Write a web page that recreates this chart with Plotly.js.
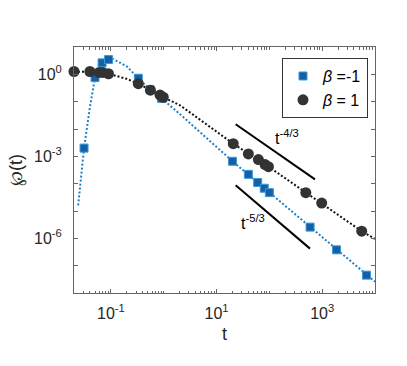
<!DOCTYPE html>
<html>
<head>
<meta charset="utf-8">
<script src="https://cdn.plot.ly/plotly-3.0.1.min.js"></script>
<style>html,body{margin:0;padding:0;background:#fff;}#chart{width:407px;height:366px;}</style>
</head>
<body>
<div id="chart"></div>
<script>
// beta = -1 (blue squares)
const blueT = [0.031, 0.05, 0.068, 0.09, 0.33, 0.55, 0.91, 20, 40, 60, 80, 100, 590, 1870, 6900];
const blueP = [2.0e-3, 0.76, 2.63, 3.47, 0.72, 0.275, 0.132, 6.6e-4, 2.19e-4, 1.10e-4, 6.8e-5, 4.7e-5, 2.57e-6, 3.8e-7, 4.5e-8];
// beta = -1 dotted curve
const blueCurveT = [0.024, 0.031, 0.04, 0.05, 0.068, 0.09, 0.11, 0.2, 0.33, 0.55, 0.91, 2.03, 20, 100, 590, 1870, 6900, 10000];
const blueCurveP = [1.6e-5, 2.0e-3, 0.063, 0.76, 2.63, 3.47, 3.63, 1.95, 0.72, 0.275, 0.132, 0.035, 6.6e-4, 4.7e-5, 2.57e-6, 3.8e-7, 4.5e-8, 2.6e-8];
// beta = 1 (black circles)
const blackT = [0.02, 0.04, 0.06, 0.07, 0.09, 0.33, 0.56, 0.85, 0.98, 20.7, 40, 62, 83, 96, 490, 980, 5600];
const blackP = [1.27, 1.27, 1.17, 1.17, 1.05, 0.457, 0.263, 0.174, 0.145, 2.9e-3, 1.23e-3, 7.6e-4, 5.0e-4, 4.2e-4, 4.7e-5, 1.95e-5, 1.82e-6];
// beta = 1 dotted curve
const blackCurveT = [0.02, 0.05, 0.09, 0.2, 0.33, 0.56, 0.98, 2.03, 20.7, 96, 490, 980, 5600, 10000];
const blackCurveP = [1.26, 1.23, 1.05, 0.68, 0.457, 0.263, 0.145, 0.074, 2.9e-3, 4.2e-4, 4.7e-5, 1.95e-5, 1.82e-6, 9.5e-7];
// guide lines
const guide43T = [23, 731];
const guide43P = [1.49e-2, 1.43e-4];
const guide53T = [23, 588];
const guide53P = [8.7e-5, 4.2e-7];
// tick labels
const xTickVals = [0.1, 10, 1000];
const xTickText = ['10<sup>-1</sup>', '10<sup>1</sup>', '10<sup>3</sup>'];
const yTickVals = [1e-8, 1e-7, 1e-6, 1e-5, 1e-4, 1e-3, 1e-2, 1e-1, 1, 10];
const yTickText = ['', '', '10<sup>-6</sup>', '', '', '10<sup>-3</sup>', '', '', '10<sup>0</sup>', ''];
const legendNames = ['<i>β</i> =-1', '<i>β</i> = 1'];

const xMinor = [];
for (let d = -2; d <= 3; d++) {
  for (let k = 1; k <= 9; k++) {
    const v = k * Math.pow(10, d);
    if (v >= 0.02 && v <= 10000) xMinor.push(v);
  }
}

const blue = '#1f80c8';
const font = "'Liberation Sans', Arial, Helvetica, sans-serif";

const traces = [
  {x: blueCurveT, y: blueCurveP, mode: 'lines', line: {color: blue, width: 2, dash: '2px,2px'}, showlegend: false, hoverinfo: 'skip'},
  {x: blackCurveT, y: blackCurveP, mode: 'lines', line: {color: '#111', width: 2, dash: '2px,2px'}, showlegend: false, hoverinfo: 'skip'},
  {x: guide43T, y: guide43P, mode: 'lines', line: {color: '#000', width: 2}, showlegend: false},
  {x: guide53T, y: guide53P, mode: 'lines', line: {color: '#000', width: 2}, showlegend: false},
  {x: blueT, y: blueP, mode: 'markers', name: legendNames[0], cliponaxis: false,
   marker: {symbol: 'square', size: 8, color: '#155fa6', line: {color: '#3a9ad9', width: 1}}},
  {x: blackT, y: blackP, mode: 'markers', name: legendNames[1], cliponaxis: false,
   marker: {symbol: 'circle', size: 11, color: '#333333', line: {width: 0}}}
];

const axisCommon = {
  type: 'log', showgrid: false, zeroline: false, showline: true, linecolor: '#666', linewidth: 1,
  mirror: 'ticks', ticks: 'inside', tickcolor: '#666', tickwidth: 1,
  tickfont: {family: font, size: 16, color: '#262626'}
};

const layout = {
  width: 407, height: 366,
  margin: {l: 74, r: 32, t: 47, b: 73},
  paper_bgcolor: '#fff', plot_bgcolor: '#fff',
  font: {family: font, color: '#262626'},
  xaxis: Object.assign({}, axisCommon, {
    range: [Math.log10(0.02), 4],
    tickmode: 'array', tickvals: xTickVals, ticktext: xTickText, ticklen: 4,
    minor: {tickmode: 'array', tickvals: xMinor, ticks: 'inside', ticklen: 2.5, tickcolor: '#666', tickwidth: 1},
    ticklabelstandoff: 6,
    title: {text: 't', font: {family: font, size: 18, color: '#262626'}, standoff: 6}
  }),
  yaxis: Object.assign({}, axisCommon, {
    range: [-8, 1],
    tickmode: 'array', tickvals: yTickVals, ticktext: yTickText, ticklen: 4,
    ticklabelstandoff: 8,
    title: {text: '℘(t)', font: {family: font, size: 18, color: '#262626'}, standoff: 6}
  }),
  legend: {
    x: 0.691, y: 0.955, xanchor: 'left', yanchor: 'top',
    bgcolor: '#fff', bordercolor: '#333', borderwidth: 1,
    font: {family: font, size: 16, color: '#000'}
  },
  annotations: [
    {xref: 'paper', yref: 'paper', x: 0.755, y: 0.635, text: 't<sup>-4/3</sup>', showarrow: false,
     font: {family: font, size: 16, color: '#000'}},
    {xref: 'paper', yref: 'paper', x: 0.595, y: 0.240, text: 't<sup>-5/3</sup>', showarrow: false,
     font: {family: font, size: 16, color: '#000'}}
  ],
  showlegend: true
};

Plotly.newPlot('chart', traces, layout, {displayModeBar: false, staticPlot: true});
</script>
</body>
</html>
